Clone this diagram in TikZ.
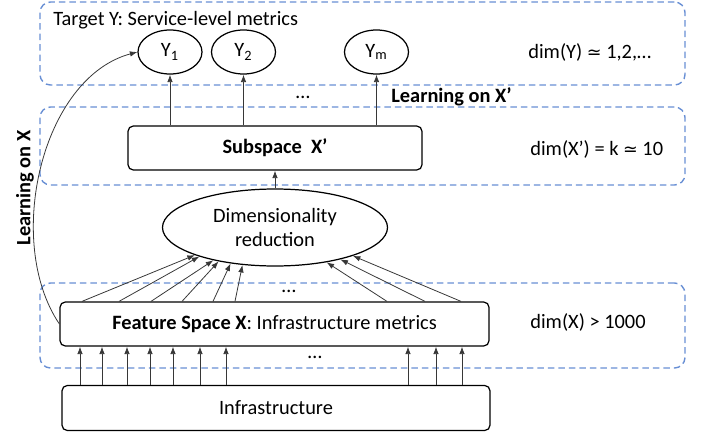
\documentclass[tikz,border=0pt]{standalone}
\usepackage{fontspec}
\setmainfont{Carlito}[Scale=1.16]
\newfontfamily\symfont{DejaVu Sans}
\definecolor{tierblue}{RGB}{104,143,212}
\definecolor{wire}{RGB}{55,55,55}
\usetikzlibrary{arrows.meta,shapes.geometric}
\tikzset{
  box/.style={draw,line width=0.7pt,rounded corners=3pt,align=center,
              minimum height=8.8mm,inner sep=2pt},
  yvar/.style={ellipse,draw,line width=0.7pt,minimum width=12.8mm,
               minimum height=8.8mm,inner sep=0pt},
  tier/.style={draw=tierblue,line width=0.8pt,dash pattern=on 1.3mm off 0.8mm,
               rounded corners=6pt,minimum width=129mm},
  arr/.style={-{Latex[length=1.5mm,width=1.1mm]},line width=0.45pt,draw=wire},
  lbl/.style={anchor=west,inner sep=0pt},
}
\newcommand{\simq}{{\symfont ≃}}

\begin{document}
\begin{tikzpicture}
  \useasboundingbox (0,0) rectangle (14.08,-8.66);
  % dashed tiers
  \node[tier,minimum height=16.6mm] (ytier) at (7.25,-0.87) {};
  \node[tier,minimum height=15.6mm] (xptier) at (7.25,-2.92) {};
  \node[tier,minimum height=17mm] (xtier) at (7.25,-6.51) {};

  % target tier
  \node[lbl] (tgt) at (1.06,-0.40) {Target Y: Service-level metrics};
  \node[yvar] (y1) at (3.4,-1.04) {Y\textsubscript{1}};
  \node[yvar] (y2) at (4.87,-1.04) {Y\textsubscript{2}};
  \node[yvar] (ym) at (7.53,-1.04) {Y\textsubscript{m}};
  \node[lbl] (dimy) at (10.56,-1.04) {dim(Y) \simq{} 1,2,…};
  \node[inner sep=0pt] (ydots) at (6.06,-1.94) {…};
  \node[lbl,font=\bfseries] (learnxp) at (7.82,-1.94) {Learning on X’};

  % subspace tier
  \node[box,minimum width=58.8mm,font=\bfseries] (sub) at (5.5,-2.96) {Subspace~ X’};
  \node[lbl] (dimxp) at (10.6,-2.98) {dim(X’) = k \simq{} 10};

  \node[ellipse,draw,line width=0.7pt,minimum width=45mm,minimum height=15.4mm,
        inner sep=0pt,align=center] (dimred) at (5.5,-4.55) {Dimensionality\\[2pt]reduction};

  % feature tier
  \node[inner sep=0pt] (fdots) at (5.78,-5.82) {…};
  \node[box,minimum width=85.8mm] (feat) at (5.49,-6.48)
    {\textbf{Feature Space X}: Infrastructure metrics};
  \node[lbl] (dimx) at (10.6,-6.44) {dim(X) > 1000};
  \node[inner sep=0pt] (idots) at (6.3,-7.14) {…};

  \node[box,minimum width=85.6mm,minimum height=9mm] (infra) at (5.52,-8.16) {Infrastructure};

  \node[rotate=90,font=\bfseries] (learnx) at (0.5,-3.76) {Learning on X};

  % connectors
  \foreach \x in {1.6,2.04,2.54,3.0,3.46,4.0,4.52,8.16,8.72,9.24}
    \draw[arr] (infra.north -| \x,0) -- (feat.south -| \x,0);
  \foreach \x/\a in {1.64/199,2.38/201,3.02/208,3.64/211,4.26/219,4.7/229,
                     7.74/326,8.5/334,9.22/340}
    \draw[arr] (feat.north -| \x,0) -- (dimred.\a);
  \draw[arr] (dimred) -- (sub);
  \foreach \t in {y1,y2,ym}
    \draw[arr] (sub.north -| \t) -- (\t);
  \draw[arr] (feat.west) to[out=124,in=195,looseness=0.9] (y1.west);
\end{tikzpicture}
\end{document}
